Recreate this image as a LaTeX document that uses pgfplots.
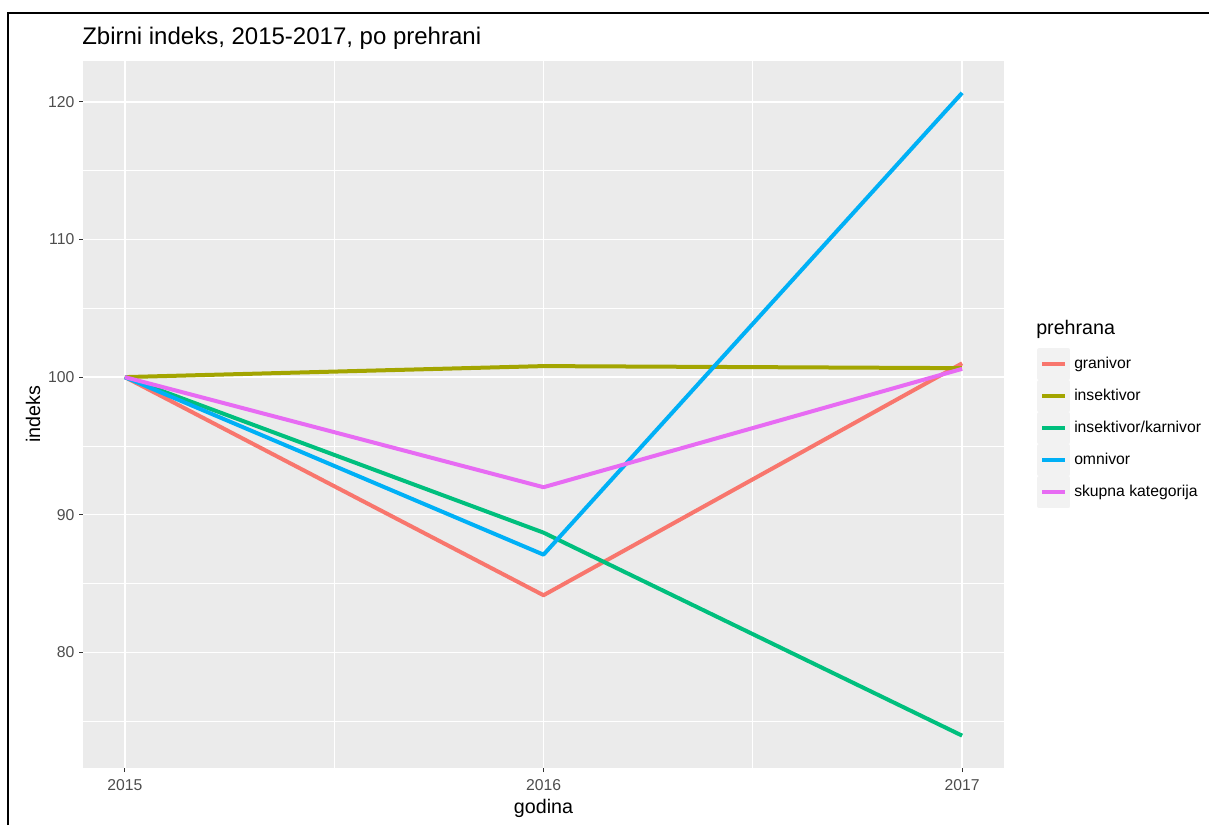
\documentclass[border=0pt]{standalone}
\usepackage{fontspec}
\setmainfont{Liberation Sans}
\usepackage{pgfplots}
\pgfplotsset{compat=1.18}
\definecolor{cgran}{HTML}{F8766D}
\definecolor{cins}{HTML}{A3A500}
\definecolor{ckar}{HTML}{00BF7D}
\definecolor{comn}{HTML}{00B0F6}
\definecolor{cskup}{HTML}{E76BF3}
\definecolor{panelbg}{HTML}{EBEBEB}
\definecolor{keybg}{HTML}{F2F2F2}
\definecolor{ticklab}{HTML}{4D4D4D}
\definecolor{tickcol}{HTML}{333333}
\begin{document}
\begin{tikzpicture}
\useasboundingbox (0,0) rectangle (906.75pt,618.75pt);
\draw[line width=1.5pt] (6pt,0pt) -- (6pt,609pt) -- (906.75pt,609pt);
\node[anchor=base west, inner sep=0pt, font=\fontsize{18}{20}\selectfont] at (61.5pt,585pt) {Zbirni indeks, 2015-2017, po prehrani};
\node[anchor=west, inner sep=0pt, font=\fontsize{14.75}{17}\selectfont] at (777pt,372pt) {prehrana};
\begin{axis}[
  at={(62.25pt,42.75pt)}, anchor=south west,
  scale only axis, width=690.75pt, height=530.6pt,
  xmin=2014.9, xmax=2017.1, ymin=71.6, ymax=123,
  axis background/.style={fill=panelbg},
  axis x line*=bottom, axis y line*=left,
  axis line style={draw=none},
  xtick={2015,2016,2017}, ytick={80,90,100,110,120},
  minor xtick={2015.5,2016.5}, minor ytick={75,85,95,105,115},
  grid=both,
  major grid style={white, line width=1.1pt},
  minor grid style={white, line width=0.55pt},
  tick align=outside, major tick length=3pt, minor tick length=0pt,
  tick style={tickcol, line width=0.8pt},
  /pgf/number format/assume math mode=true,
  xticklabel={\pgfmathprintnumber[1000 sep={}]{\tick}},
  ticklabel style={font=\fontsize{11.8}{13}\selectfont, text=ticklab},
  xticklabel style={yshift=-2pt},
  xlabel={godina}, ylabel={indeks},
  label style={font=\fontsize{14.75}{17}\selectfont},
  xlabel style={at={(axis description cs:0.5,-0.0565)}, anchor=center},
  ylabel style={at={(axis description cs:-0.0543,0.5)}, anchor=center},
  legend cell align=left,
  legend style={at={(rel axis cs:1.0358,0.5937)}, anchor=north west, draw=none, fill=none,
    inner sep=0pt, row sep=0pt, font=\fontsize{11.8}{13}\selectfont,
    nodes={inner sep=0pt}, column sep=3pt},
  legend image code/.code={
    \fill[keybg] (0pt,-10.5pt) rectangle (21.75pt,10.5pt);
    \draw[line width=3pt] (2.2pt,0pt) -- (19.5pt,0pt);
  },
  every axis plot/.append style={line width=3pt, line join=round},
]
\addplot[cgran] coordinates {(2015,100) (2016,84.15) (2017,101.0)};
\addlegendentry{granivor}
\addplot[cins] coordinates {(2015,100) (2016,100.8) (2017,100.65)};
\addlegendentry{insektivor}
\addplot[ckar] coordinates {(2015,100) (2016,88.7) (2017,73.95)};
\addlegendentry{insektivor/karnivor}
\addplot[comn] coordinates {(2015,100) (2016,87.1) (2017,120.65)};
\addlegendentry{omnivor}
\addplot[cskup] coordinates {(2015,100) (2016,92.0) (2017,100.6)};
\addlegendentry{skupna kategorija}
\end{axis}
\end{tikzpicture}
\end{document}
